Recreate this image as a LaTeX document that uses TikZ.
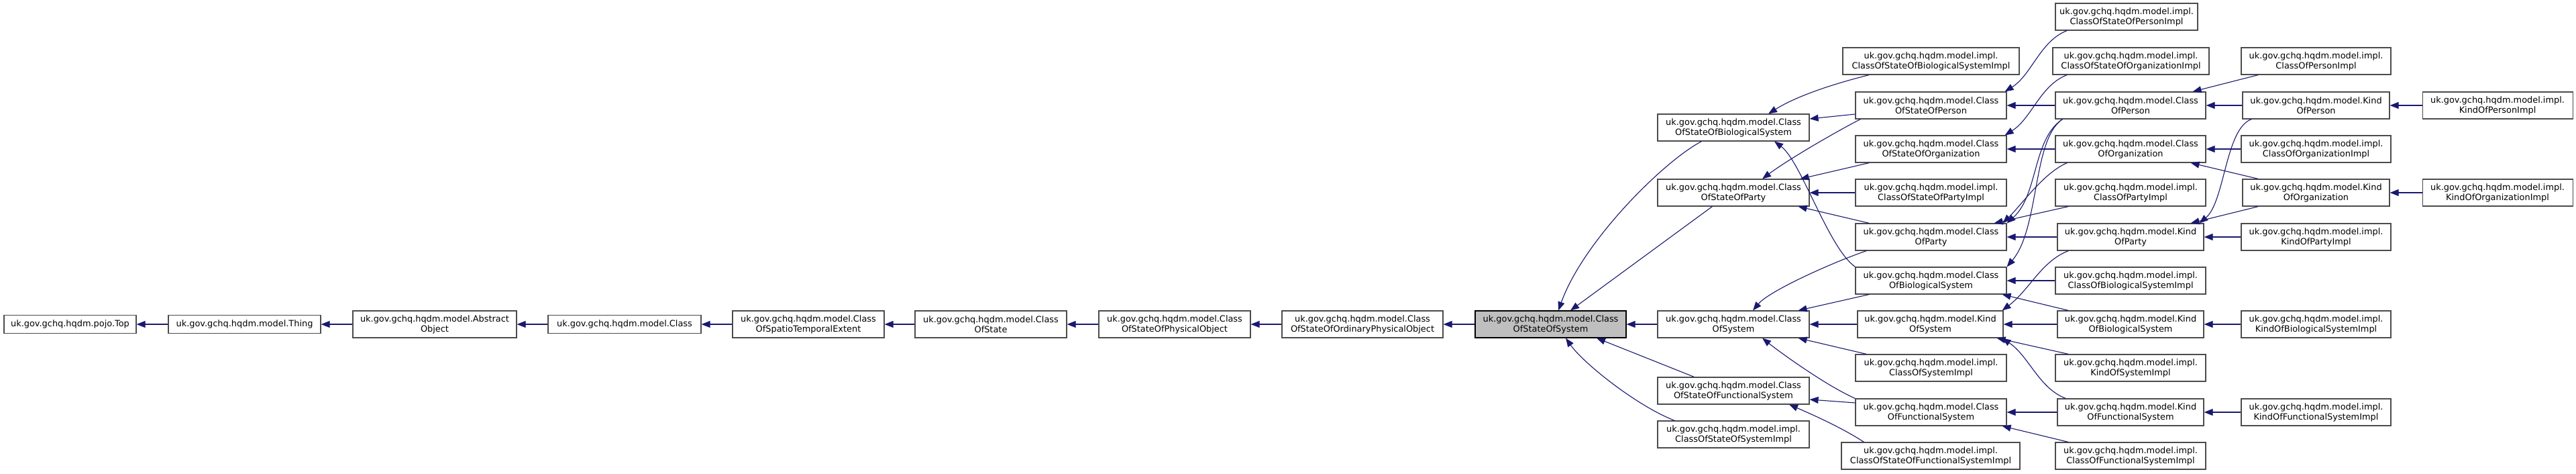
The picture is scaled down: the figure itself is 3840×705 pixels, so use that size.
\documentclass[tikz,border=0pt]{standalone}
\usepackage{fontspec}
\setmainfont{DejaVu Sans}
\usetikzlibrary{arrows.meta}
\definecolor{edgeblue}{HTML}{191970}
\definecolor{focusgray}{HTML}{BFBFBF}

\begin{document}
\begin{tikzpicture}[
    x=1pt, y=-1pt,
    box/.style={draw=black!70, line width=1.1pt, fill=white, align=center, inner xsep=3pt, inner ysep=5pt, minimum height=27pt, minimum width=225pt, font=\fontsize{12.9}{15}\selectfont},
    tall/.style={minimum height=40pt},
    focus/.style={fill=focusgray, draw=black},
    arrow/.style={-{Triangle[length=13pt,width=10pt]}, draw=edgeblue, line width=1.1pt}
]
\useasboundingbox (0,0) rectangle (3840,705);

\node[box, minimum width=197pt] (top) at (104.5,483) {uk.gov.gchq.hqdm.pojo.Top};
\node[box, minimum width=227pt] (thing) at (364.5,483) {uk.gov.gchq.hqdm.model.Thing};
\node[box, tall, minimum width=244pt] (abstractobj) at (648,483) {uk.gov.gchq.hqdm.model.Abstract\\Object};
\node[box, minimum width=228pt] (cls) at (931,483) {uk.gov.gchq.hqdm.model.Class};
\node[box, tall, minimum width=226pt] (cosste) at (1205,483) {uk.gov.gchq.hqdm.model.Class\\OfSpatioTemporalExtent};
\node[box, tall, minimum width=226pt] (cos) at (1477,483) {uk.gov.gchq.hqdm.model.Class\\OfState};
\node[box, tall, minimum width=226pt] (cospo) at (1751,483) {uk.gov.gchq.hqdm.model.Class\\OfStateOfPhysicalObject};
\node[box, tall, minimum width=240pt] (cosopo) at (2031,483) {uk.gov.gchq.hqdm.model.Class\\OfStateOfOrdinaryPhysicalObject};
\node[box, tall, focus] (coss) at (2311.5,483) {uk.gov.gchq.hqdm.model.Class\\OfStateOfSystem};

\node[box, tall, minimum width=226pt] (cosbs) at (2584,190) {uk.gov.gchq.hqdm.model.Class\\OfStateOfBiologicalSystem};
\node[box, tall, minimum width=226pt] (cosparty) at (2584,287) {uk.gov.gchq.hqdm.model.Class\\OfStateOfParty};
\node[box, tall, minimum width=226pt] (csys) at (2584,483) {uk.gov.gchq.hqdm.model.Class\\OfSystem};
\node[box, tall, minimum width=226pt] (cosfs) at (2584,582) {uk.gov.gchq.hqdm.model.Class\\OfStateOfFunctionalSystem};
\node[box, tall, minimum width=226pt] (cossimpl) at (2584,647) {uk.gov.gchq.hqdm.model.impl.\\ClassOfStateOfSystemImpl};

\node[box, tall, minimum width=263pt] (cosbsimpl) at (2878.5,91) {uk.gov.gchq.hqdm.model.impl.\\ClassOfStateOfBiologicalSystemImpl};
\node[box, tall] (cosperson) at (2878.5,157) {uk.gov.gchq.hqdm.model.Class\\OfStateOfPerson};
\node[box, tall] (cosorg) at (2878.5,222) {uk.gov.gchq.hqdm.model.Class\\OfStateOfOrganization};
\node[box, tall] (cospartyimpl) at (2878.5,287) {uk.gov.gchq.hqdm.model.impl.\\ClassOfStateOfPartyImpl};
\node[box, tall] (cparty) at (2878.5,353) {uk.gov.gchq.hqdm.model.Class\\OfParty};
\node[box, tall] (cbs) at (2878.5,418) {uk.gov.gchq.hqdm.model.Class\\OfBiologicalSystem};
\node[box, tall, minimum width=217pt] (ksys) at (2877.5,483) {uk.gov.gchq.hqdm.model.Kind\\OfSystem};
\node[box, tall] (csysimpl) at (2878.5,548) {uk.gov.gchq.hqdm.model.impl.\\ClassOfSystemImpl};
\node[box, tall] (cfs) at (2878.5,614) {uk.gov.gchq.hqdm.model.Class\\OfFunctionalSystem};
\node[box, tall, minimum width=266pt] (cosfsimpl) at (2878,679) {uk.gov.gchq.hqdm.model.impl.\\ClassOfStateOfFunctionalSystemImpl};

\node[box, tall, minimum width=212pt] (cospersonimpl) at (3170,25) {uk.gov.gchq.hqdm.model.impl.\\ClassOfStateOfPersonImpl};
\node[box, tall, minimum width=233pt] (cosorgimpl) at (3176.5,91) {uk.gov.gchq.hqdm.model.impl.\\ClassOfStateOfOrganizationImpl};
\node[box, tall, minimum width=224pt] (cperson) at (3176,157) {uk.gov.gchq.hqdm.model.Class\\OfPerson};
\node[box, tall, minimum width=224pt] (corg) at (3176,222) {uk.gov.gchq.hqdm.model.Class\\OfOrganization};
\node[box, tall, minimum width=224pt] (cpartyimpl) at (3176,287) {uk.gov.gchq.hqdm.model.impl.\\ClassOfPartyImpl};
\node[box, tall, minimum width=218pt] (kparty) at (3176,353) {uk.gov.gchq.hqdm.model.Kind\\OfParty};
\node[box, tall, minimum width=224pt] (cbsimpl) at (3176,418) {uk.gov.gchq.hqdm.model.impl.\\ClassOfBiologicalSystemImpl};
\node[box, tall, minimum width=218pt] (kbs) at (3176,483) {uk.gov.gchq.hqdm.model.Kind\\OfBiologicalSystem};
\node[box, tall, minimum width=224pt] (ksysimpl) at (3176,548) {uk.gov.gchq.hqdm.model.impl.\\KindOfSystemImpl};
\node[box, tall, minimum width=218pt] (kfs) at (3176,614) {uk.gov.gchq.hqdm.model.Kind\\OfFunctionalSystem};
\node[box, tall, minimum width=224pt] (cfsimpl) at (3176,679) {uk.gov.gchq.hqdm.model.impl.\\ClassOfFunctionalSystemImpl};

\node[box, tall, minimum width=223pt] (cpersonimpl) at (3452.5,91) {uk.gov.gchq.hqdm.model.impl.\\ClassOfPersonImpl};
\node[box, tall, minimum width=219pt] (kperson) at (3452.5,157) {uk.gov.gchq.hqdm.model.Kind\\OfPerson};
\node[box, tall, minimum width=223pt] (corgimpl) at (3452.5,222) {uk.gov.gchq.hqdm.model.impl.\\ClassOfOrganizationImpl};
\node[box, tall, minimum width=219pt] (korg) at (3452.5,287) {uk.gov.gchq.hqdm.model.Kind\\OfOrganization};
\node[box, tall, minimum width=223pt] (kpartyimpl) at (3452.5,353) {uk.gov.gchq.hqdm.model.impl.\\KindOfPartyImpl};
\node[box, tall, minimum width=223pt] (kbsimpl) at (3452.5,483) {uk.gov.gchq.hqdm.model.impl.\\KindOfBiologicalSystemImpl};
\node[box, tall, minimum width=223pt] (kfsimpl) at (3452.5,614) {uk.gov.gchq.hqdm.model.impl.\\KindOfFunctionalSystemImpl};

\node[box, tall, minimum width=224pt] (kpersonimpl) at (3723,157) {uk.gov.gchq.hqdm.model.impl.\\KindOfPersonImpl};
\node[box, tall, minimum width=224pt] (korgimpl) at (3723,287) {uk.gov.gchq.hqdm.model.impl.\\KindOfOrganizationImpl};

\draw[arrow] (thing) -- (top);
\draw[arrow] (abstractobj) -- (thing);
\draw[arrow] (cls) -- (abstractobj);
\draw[arrow] (cosste) -- (cls);
\draw[arrow] (cos) -- (cosste);
\draw[arrow] (cospo) -- (cos);
\draw[arrow] (cosopo) -- (cospo);
\draw[arrow] (coss) -- (cosopo);

\draw[arrow] ([xshift=66pt]cosbs.south west) .. controls +(-57,30) and +(37,-103) .. ([xshift=11.5pt]coss.north);
\draw[arrow] ([xshift=82pt]cosparty.south west) -- ([xshift=29.5pt]coss.north);
\draw[arrow] (csys) -- (coss);
\draw[arrow] ([xshift=55pt]cosfs.north west) -- ([xshift=68.5pt]coss.south);
\draw[arrow] ([xshift=26pt]cossimpl.north west) .. controls +(-57,-22) and +(26,37) .. ([xshift=22.5pt]coss.south);

\draw[arrow] ([xshift=40pt]cosbsimpl.south west) .. controls +(-60,15) and +(40,-25) .. ([xshift=52pt]cosbs.north);
\draw[arrow] ([yshift=-13pt]cosperson.west) -- ([yshift=13pt]cosbs.east);
\draw[arrow] (cbs.north west) .. controls +(-40,-28) and +(40,30) .. ([xshift=61pt]cosbs.south);
\draw[arrow] ([xshift=8pt]cosperson.south west) .. controls +(-30,15) and +(40,-30) .. ([xshift=43pt]cosparty.north);
\draw[arrow] ([xshift=21pt]cosorg.south west) -- ([xshift=-14pt]cosparty.north east);
\draw[arrow] (cospartyimpl) -- (cosparty);
\draw[arrow] ([xshift=21pt]cparty.north west) -- ([xshift=-17pt]cosparty.south east);
\draw[arrow] ([xshift=17pt]cparty.south west) .. controls +(-45,15) and +(25,-30) .. ([xshift=29pt]csys.north);
\draw[arrow] ([xshift=21pt]cbs.south west) -- ([xshift=-17pt]csys.north east);
\draw[arrow] (cfs.north west) .. controls +(-45,-20) and +(25,20) .. ([xshift=43pt]csys.south);
\draw[arrow] ([xshift=17pt]csysimpl.north west) -- ([xshift=-17pt]csys.south east);
\draw[arrow] (ksys) -- (csys);
\draw[arrow] ([yshift=14pt]cfs.west) -- ([yshift=-13pt]cosfs.east);
\draw[arrow] ([xshift=34pt]cosfsimpl.north west) .. controls +(-30,-20) and +(35,15) .. ([xshift=83pt]cosfs.south);

\draw[arrow] ([xshift=18pt]cospersonimpl.south west) .. controls +(-40,15) and +(40,-25) .. ([xshift=-3pt]cosperson.north east);
\draw[arrow] (cperson) -- (cosperson);
\draw[arrow] ([xshift=22pt]cosorgimpl.south west) .. controls +(-40,15) and +(40,-25) .. ([xshift=-3pt]cosorg.north east);
\draw[arrow] (corg) -- (cosorg);
\draw[arrow] ([xshift=11pt]cperson.south west) .. controls +(-45,30) and +(47,-42) .. (cparty.north east);
\draw[arrow] ([xshift=11pt]cperson.south west) .. controls +(-45,30) and +(49,-58) .. (cbs.north east);
\draw[arrow] ([xshift=18pt]corg.south west) .. controls +(-35,15) and +(30,-30) .. ([xshift=-6pt]cparty.north east);
\draw[arrow] ([xshift=20pt]cpartyimpl.south west) -- ([xshift=-19pt]cparty.north east);
\draw[arrow] (kparty) -- (cparty);
\draw[arrow] ([xshift=17pt]kparty.south west) .. controls +(-40,15) and +(40,-30) .. ([xshift=-2pt]ksys.north east);
\draw[arrow] (cbsimpl) -- (cbs);
\draw[arrow] ([xshift=17pt]kbs.north west) -- ([xshift=-7pt]cbs.south east);
\draw[arrow] (kbs) -- (ksys);
\draw[arrow] ([xshift=20pt]ksysimpl.north west) -- ([xshift=-10pt]ksys.south east);
\draw[arrow] ([xshift=13pt]kfs.north west) .. controls +(-40,-15) and +(40,27) .. ([xshift=-2pt]ksys.south east);
\draw[arrow] (kfs) -- (cfs);
\draw[arrow] ([xshift=20pt]cfsimpl.north west) -- ([xshift=-7pt]cfs.south east);

\draw[arrow] ([xshift=26pt]cpersonimpl.south west) -- ([xshift=-20pt]cperson.north east);
\draw[arrow] (kperson) -- (cperson);
\draw[arrow] ([xshift=14pt]kperson.south west) .. controls +(-39,13) and +(38,-32) .. ([xshift=-7pt]kparty.north east);
\draw[arrow] (corgimpl) -- (corg);
\draw[arrow] ([xshift=24pt]korg.north west) -- ([xshift=-23pt]corg.south east);
\draw[arrow] ([xshift=24pt]korg.south west) -- ([xshift=-20pt]kparty.north east);
\draw[arrow] (kpartyimpl) -- (kparty);
\draw[arrow] (kbsimpl) -- (kbs);
\draw[arrow] (kfsimpl) -- (kfs);
\draw[arrow] (kpersonimpl) -- (kperson);
\draw[arrow] (korgimpl) -- (korg);
\end{tikzpicture}
\end{document}
